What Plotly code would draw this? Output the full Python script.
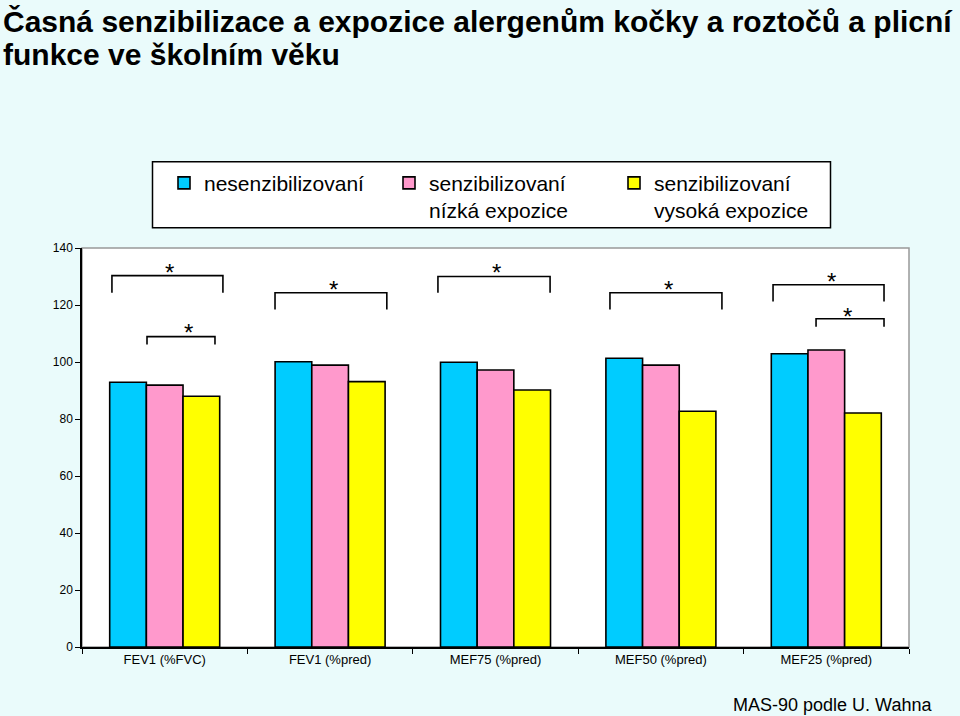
import plotly.graph_objects as go

categories = ["FEV1 (%FVC)", "FEV1 (%pred)", "MEF75 (%pred)", "MEF50 (%pred)", "MEF25 (%pred)"]
series_names = ["nesenzibilizovaní", "senzibilizovaní<br>nízká expozice", "senzibilizovaní<br>vysoká expozice"]
nesenz = [92.9, 100.1, 99.9, 101.3, 102.9]
senz_nizka = [91.9, 98.9, 97.2, 98.9, 104.2]
senz_vysoka = [88.0, 93.1, 90.2, 82.7, 82.1]
y_ticks = [0, 20, 40, 60, 80, 100, 120, 140]
title_lines = ["Časná senzibilizace a expozice alergenům kočky a roztočů a plicní",
               "funkce ve školním věku"]

colors = ["#00CCFF", "#FF99CC", "#FFFF00"]

# significance brackets: (x_left, x_right, y_line, y_foot, star_x, star_y)
brackets = [
    (-0.319, 0.352, 130.3, 124.3, 0.03, 133.1),
    (-0.107, 0.304, 108.9, 106.1, 0.141, 112.0),
    (0.667, 1.343, 124.3, 118.4, 1.018, 127.1),
    (1.652, 2.330, 130.0, 124.3, 2.009, 133.1),
    (2.692, 3.369, 124.3, 118.4, 3.043, 127.1),
    (3.678, 4.349, 127.1, 121.2, 4.034, 130.0),
    (3.938, 4.349, 115.2, 112.4, 4.131, 117.7),
]

L, R, T, B = 82, 909, 248.3, 647.3
PW, PH = R - L, B - T


def px(x):
    return (x - L) / PW


def py(y):
    return (B - y) / PH


fig = go.Figure()
for name, vals, col in zip(series_names, [nesenz, senz_nizka, senz_vysoka], colors):
    fig.add_trace(go.Bar(
        x=categories, y=vals, name=name,
        marker=dict(color=col, line=dict(color="black", width=1.6)),
    ))

shapes = [dict(type="rect", xref="paper", yref="paper", x0=0, x1=1, y0=0, y1=1,
               line=dict(color="#999999", width=1.5), fillcolor="rgba(0,0,0,0)", layer="below"),
          # legend frame
          dict(type="rect", xref="paper", yref="paper", x0=px(152.5), x1=px(830.5),
               y0=py(228), y1=py(162), line=dict(color="black", width=1.5),
               fillcolor="white", layer="above")]
annotations = []
for xl, xr, yl, yf, sx, sy in brackets:
    shapes.append(dict(type="path", xref="x", yref="y",
                       path=f"M {xl} {yf} L {xl} {yl} L {xr} {yl} L {xr} {yf}",
                       line=dict(color="black", width=1.6)))
    annotations.append(dict(x=sx, y=sy, xref="x", yref="y", text="*", showarrow=False,
                            font=dict(size=24, color="black", family="Liberation Sans, Arial"),
                            yanchor="middle", yshift=-5))

annotations.append(dict(x=px(934), y=py(705), xref="paper", yref="paper",
                        text="MAS-90 podle U. Wahna", showarrow=False,
                        xanchor="right", yanchor="middle",
                        font=dict(size=18, color="black")))

for line, top in zip(title_lines, [3.5, 36.5]):
    annotations.append(dict(x=px(1), y=py(top), xref="paper", yref="paper",
                            text=f"<b>{line}</b>",
                            showarrow=False, align="left", xanchor="left", yanchor="top",
                            font=dict(size=30, color="black", family="Liberation Sans, Arial")))

fig.update_layout(
    width=960, height=716,
    margin=dict(l=L, r=960 - R, t=T, b=716 - B),
    paper_bgcolor="#EAFBFB", plot_bgcolor="white",
    font=dict(family="Liberation Sans, Arial", color="black"),
    barmode="group", bargap=0.335, bargroupgap=0,
    showlegend=True,
    legend=dict(orientation="h", x=px(164), y=py(163),
                xanchor="left", yanchor="top", bgcolor="rgba(0,0,0,0)",
                borderwidth=0,
                font=dict(size=21, color="black"),
                entrywidth=180, entrywidthmode="pixels", valign="top",
                itemwidth=30, traceorder="normal"),
    shapes=shapes, annotations=annotations,
)
fig.update_xaxes(type="category", showline=True, linecolor="black", linewidth=1.5,
                 ticks="outside", ticklen=5, tickcolor="black", tickson="boundaries",
                 tickfont=dict(size=13), showgrid=False)
fig.update_yaxes(range=[0, 140], tickvals=y_ticks, showline=True, linecolor="black", linewidth=1.5,
                 ticks="outside", ticklen=5, tickcolor="black", tickfont=dict(size=12),
                 showgrid=False, zeroline=False)

fig.write_html("out.html", config={"displayModeBar": False},
               post_script="document.body.style.margin='0';")
